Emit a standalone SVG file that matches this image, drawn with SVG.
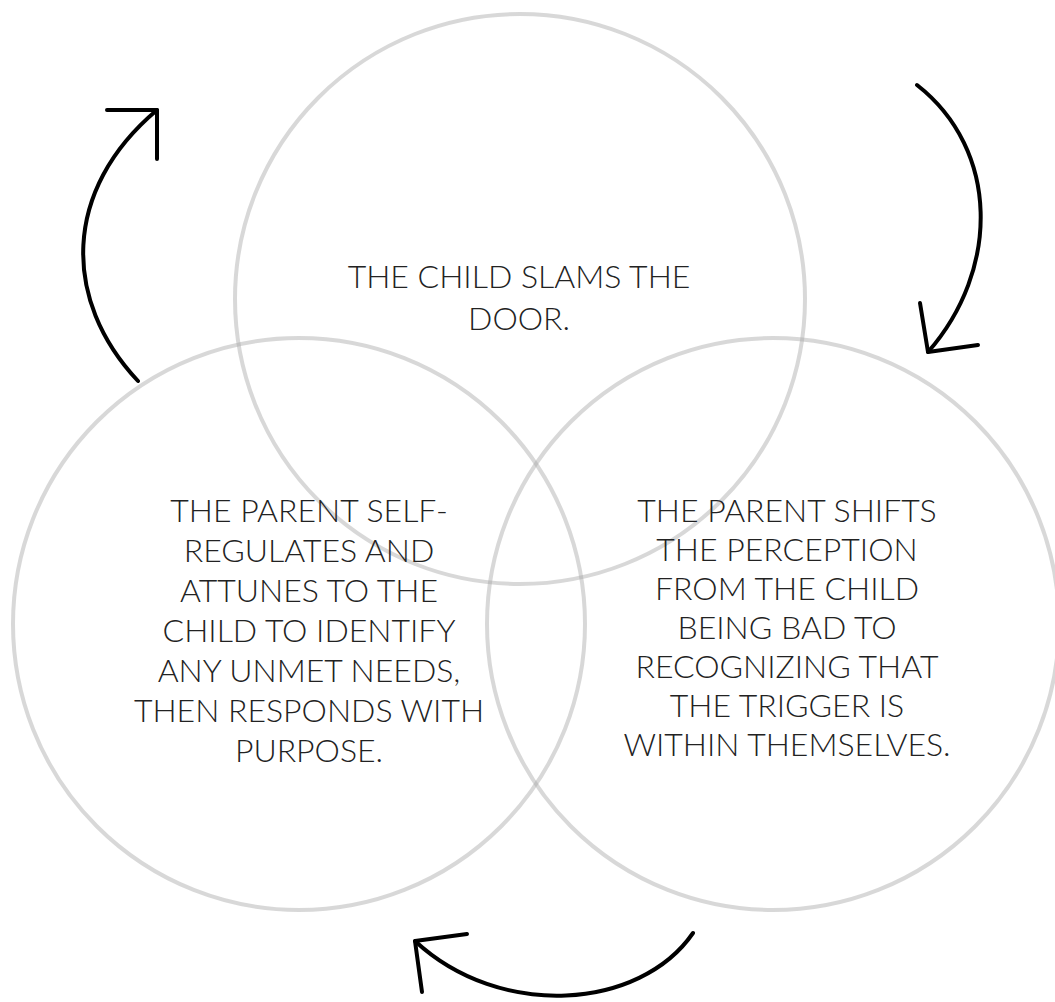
<svg xmlns="http://www.w3.org/2000/svg" width="1055" height="1002" viewBox="0 0 1055 1002">
<style>
.ring{fill:none;stroke:#a8a8a8;stroke-opacity:0.45;stroke-width:4}
.lbl{font-family:Lato,"Open Sans","Liberation Sans",sans-serif;font-weight:300;font-size:32px;fill:#222;text-anchor:middle}
.arr{fill:none;stroke:#000;stroke-width:4;stroke-linecap:round;stroke-linejoin:round}
</style>
<rect width="1055" height="1002" fill="#fff"/>
<g id="node-top">
<circle class="ring" cx="520" cy="299" r="285"/>
<text class="lbl" x="519" y="288">THE CHILD SLAMS THE</text>
<text class="lbl" x="519" y="330">DOOR.</text>
</g>
<g id="node-left">
<circle class="ring" cx="299" cy="624" r="286"/>
<text class="lbl" x="309" y="522">THE PARENT SELF-</text>
<text class="lbl" x="309" y="562">REGULATES AND</text>
<text class="lbl" x="309" y="602">ATTUNES TO THE</text>
<text class="lbl" x="309" y="642">CHILD TO IDENTIFY</text>
<text class="lbl" x="309" y="682">ANY UNMET NEEDS,</text>
<text class="lbl" x="309" y="722">THEN RESPONDS WITH</text>
<text class="lbl" x="309" y="762">PURPOSE.</text>
</g>
<g id="node-right">
<circle class="ring" cx="773" cy="624" r="286"/>
<text class="lbl" x="787" y="522">THE PARENT SHIFTS</text>
<text class="lbl" x="787" y="561">THE PERCEPTION</text>
<text class="lbl" x="787" y="600">FROM THE CHILD</text>
<text class="lbl" x="787" y="639">BEING BAD TO</text>
<text class="lbl" x="787" y="678">RECOGNIZING THAT</text>
<text class="lbl" x="787" y="717">THE TRIGGER IS</text>
<text class="lbl" x="787" y="756">WITHIN THEMSELVES.</text>
</g>
<g id="connectors">
<path class="arr" d="M138,381 C62,300 62,190 157,110"/>
<path class="arr" d="M107,110 L157,110 L157,159"/>
<path class="arr" d="M917,85 C1000,150 1000,270 928,352"/>
<path class="arr" d="M920,303 L928,352 L978,345"/>
<path class="arr" d="M693,933 C640,1010 500,1020 415,941"/>
<path class="arr" d="M467,934 L415,941 L422,992"/>
</g>
</svg>
